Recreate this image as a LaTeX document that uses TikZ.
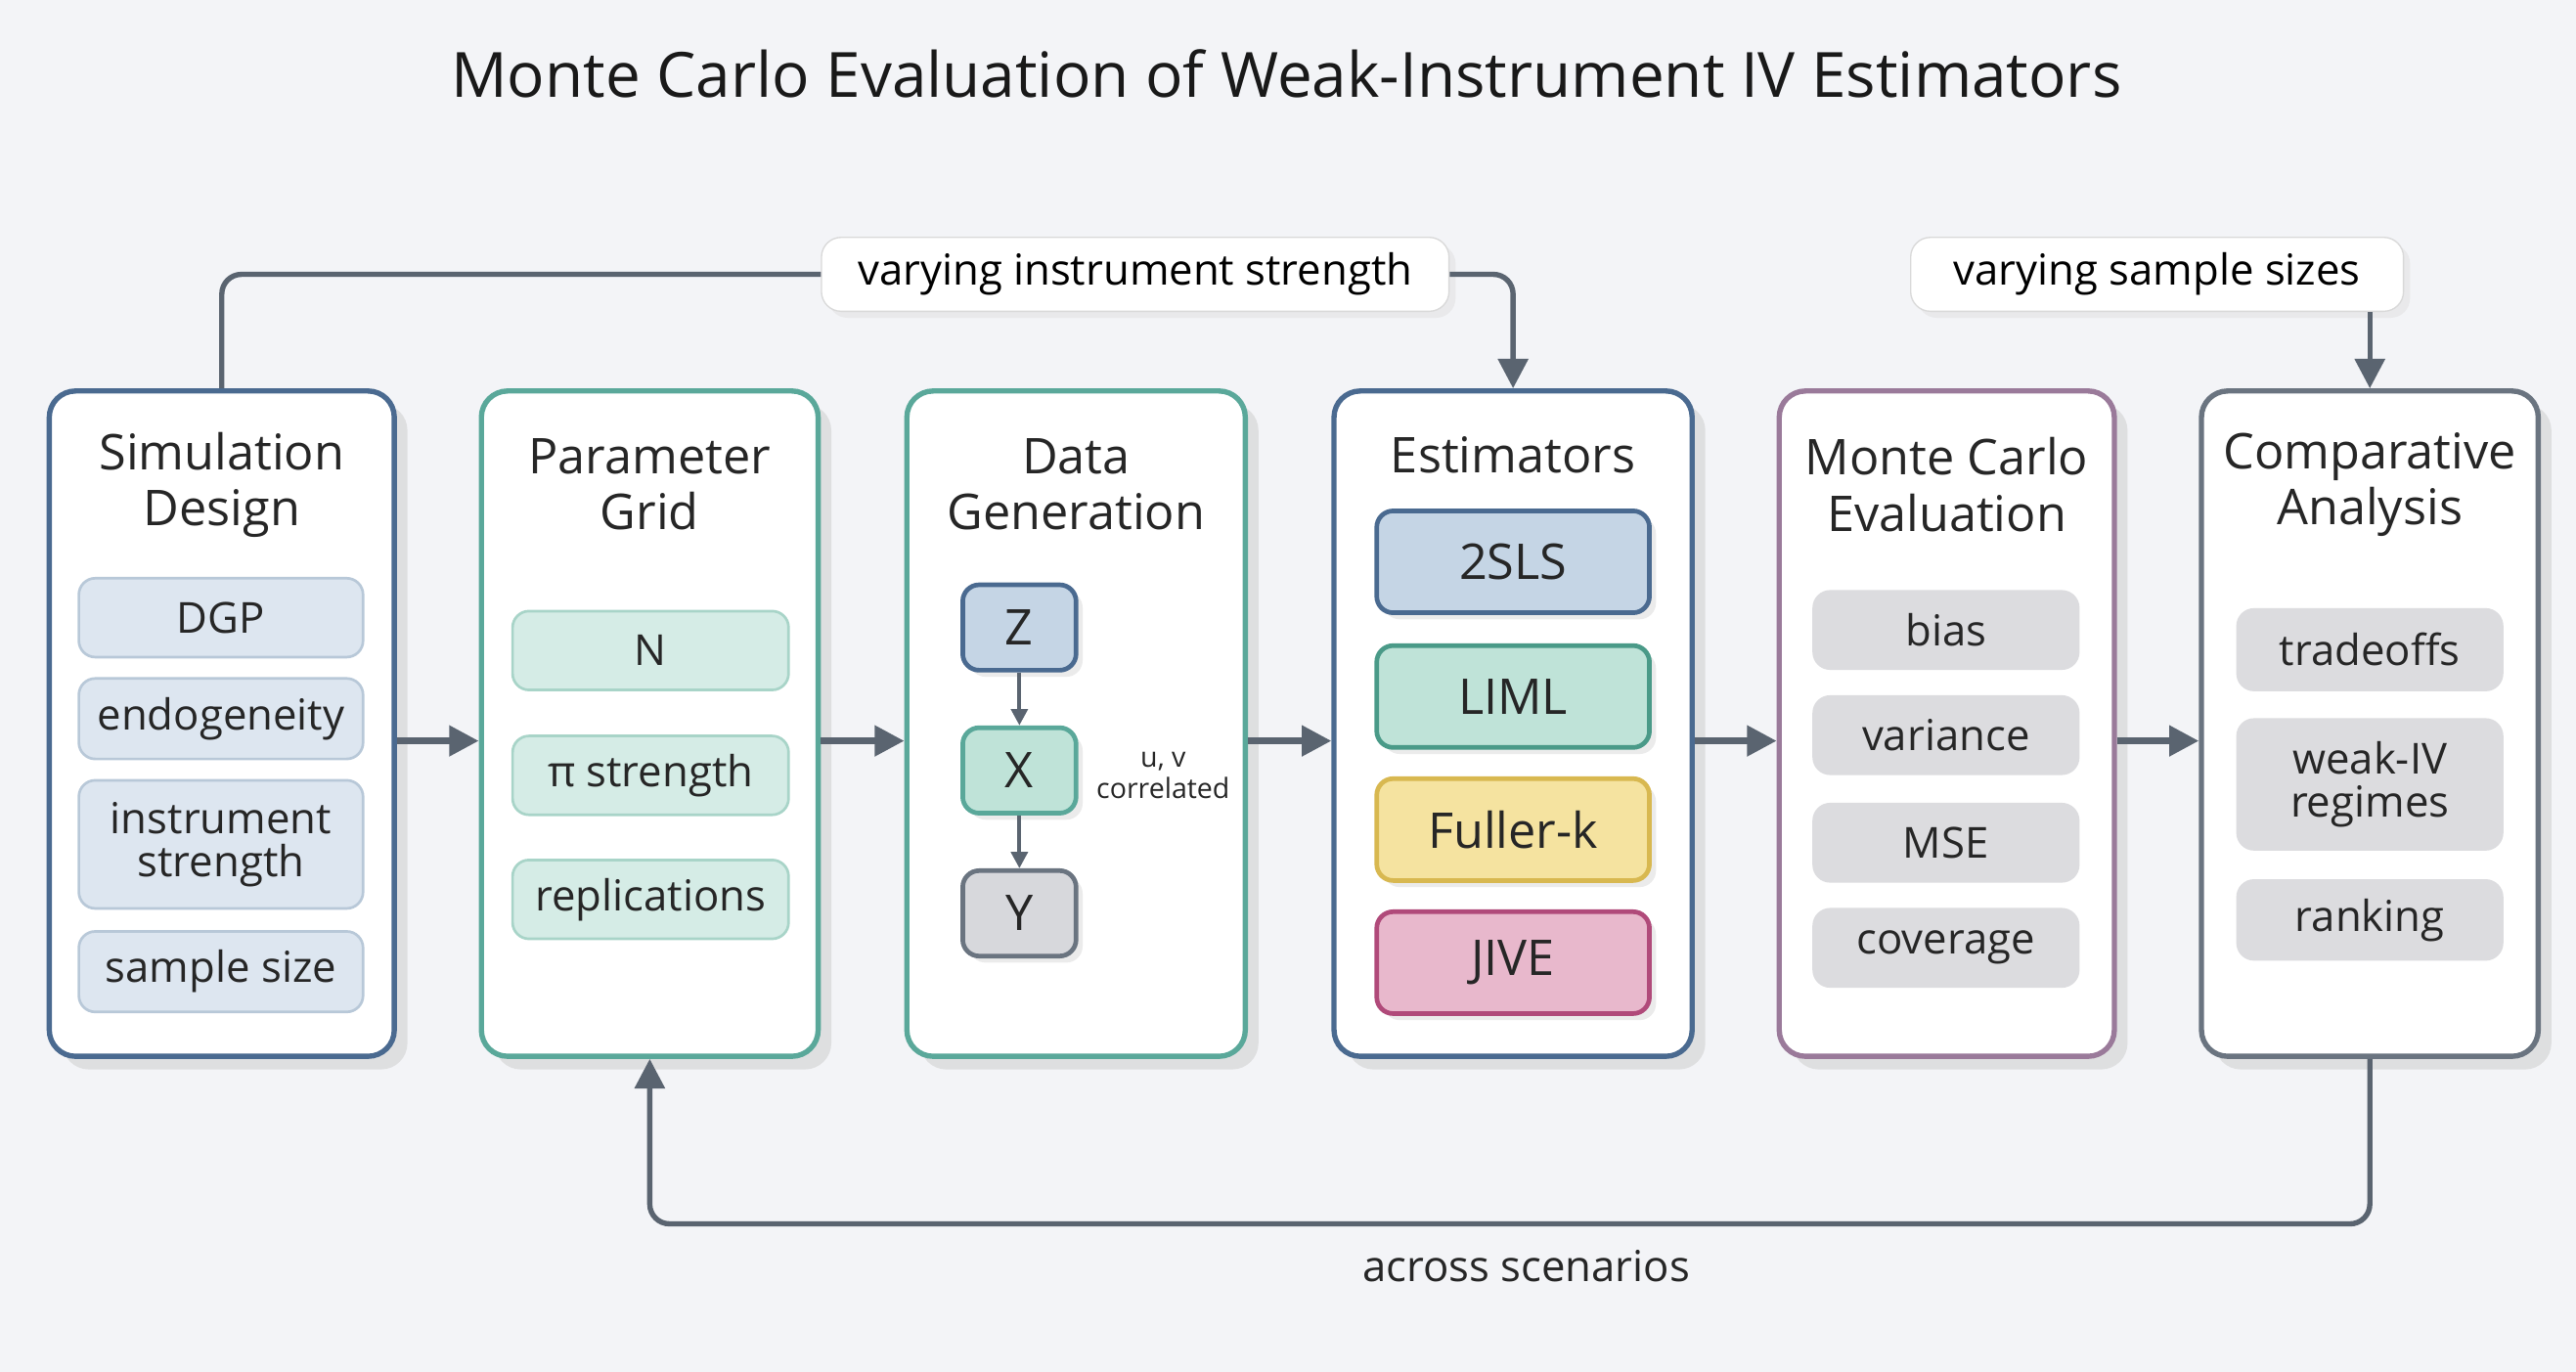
\documentclass[tikz,border=0pt]{standalone}
\usepackage{fontspec}
\setmainfont{Open Sans}
\usetikzlibrary{arrows.meta,shadows}
\definecolor{bg}{HTML}{F3F4F7}
\definecolor{ln}{HTML}{5A6470}
\definecolor{bB}{HTML}{4A6A90}
\definecolor{bT}{HTML}{5AA89A}
\definecolor{bP}{HTML}{9A7A9A}
\definecolor{bG}{HTML}{6A7480}
\definecolor{f1}{HTML}{DDE6F0}\definecolor{d1}{HTML}{B8C8D8}
\definecolor{f2}{HTML}{D5ECE6}\definecolor{d2}{HTML}{A8D4C8}
\definecolor{f5}{HTML}{DCDCDF}
\tikzset{
 panel/.style={draw, line width=1.6pt, rounded corners=8pt, fill=white, drop shadow={shadow xshift=4pt, shadow yshift=-4pt, fill=black!18, opacity=0.6}},
 ptitle/.style={font=\fontsize{15}{17}\selectfont, align=center, text=black!85},
 item/.style={rounded corners=5pt, line width=0.8pt, font=\fontsize{13}{15}\selectfont, align=center, text=black!85, inner sep=0pt},
 arr/.style={ln, line width=2pt, -{Triangle[length=9pt,width=9pt]}},
 lp/.style={ln, line width=1.6pt, rounded corners=6pt},
 lab/.style={draw=black!15, fill=white, rounded corners=6pt, font=\fontsize{13}{15}\selectfont, inner sep=0pt, drop shadow={shadow xshift=2pt, shadow yshift=-2pt, fill=black!12}},
}
\begin{document}
\begin{tikzpicture}[x=0.5pt,y=-0.5pt]
\fill[bg] (0,0) rectangle (1568,835);
\useasboundingbox (0,0) rectangle (1568,835);
\node[font=\fontsize{19}{22}\selectfont, text=black!90] (title) at (783,45) {Monte Carlo Evaluation of Weak-Instrument IV Estimators};
% panels
\node[panel, draw=bB, minimum width=105pt, minimum height=202.5pt] (p1) at (135,440.5) {};
\node[panel, draw=bT, minimum width=102.5pt, minimum height=202.5pt] (p2) at (395.5,440.5) {};
\node[panel, draw=bT, minimum width=103pt, minimum height=202.5pt] (p3) at (655,440.5) {};
\node[panel, draw=bB, minimum width=109pt, minimum height=202.5pt] (p4) at (921,440.5) {};
\node[panel, draw=bP, minimum width=102pt, minimum height=202.5pt] (p5) at (1185,440.5) {};
\node[panel, draw=bG, minimum width=102.5pt, minimum height=202.5pt] (p6) at (1442.5,440.5) {};
% titles
\node[ptitle] (t1) at (135,295) {Simulation\\Design};
\node[ptitle] (t2) at (395.5,295) {Parameter\\Grid};
\node[ptitle] (t3) at (655,295) {Data\\Generation};
\node[ptitle] (t4) at (921,277) {Estimators};
\node[ptitle] (t5) at (1185,295) {Monte Carlo\\Evaluation};
\node[ptitle] (t6) at (1442.5,295) {Comparative\\Analysis};
% panel 1
\tikzset{a1/.style={item, fill=f1, draw=d1, minimum width=86.5pt}}
\node[a1, minimum height=24pt] (dgp) at (134.5,376) {DGP};
\node[a1, minimum height=24.5pt] (endo) at (134.5,437.5) {endogeneity};
\node[a1, minimum height=39pt] (inst) at (134.5,514) {instrument\\[-2pt]strength};
\node[a1, minimum height=24.5pt] (ss) at (134.5,591.5) {sample size};
% panel 2
\tikzset{a2/.style={item, fill=f2, draw=d2, minimum width=84pt, minimum height=24pt}}
\node[a2] (n) at (396,396) {N};
\node[a2] (pi) at (396,472) {π strength};
\node[a2] (rep) at (396,547.5) {replications};
% panel 3
\tikzset{a3/.style={item, line width=1.4pt, minimum width=34.5pt, minimum height=26pt, font=\fontsize{15}{17}\selectfont, drop shadow={shadow xshift=2pt, shadow yshift=-2pt, fill=black!15}}}
\node[a3, draw=bB, fill={rgb,255:red,197;green,213;blue,229}] (z) at (620.5,382) {Z};
\node[a3, draw=bT, fill={rgb,255:red,191;green,227;blue,216}] (x) at (620.5,469) {X};
\node[a3, draw=bG, fill={rgb,255:red,215;green,216;blue,220}] (y) at (620.5,556) {Y};
\draw[ln, line width=1.2pt, -{Triangle[length=5pt,width=5pt]}] (z) -- (x);
\draw[ln, line width=1.2pt, -{Triangle[length=5pt,width=5pt]}] (x) -- (y);
\node[font=\fontsize{8.5}{9.5}\selectfont, align=center, text=black!85] (uv) at (708,472) {u, v\\correlated};
% panel 4
\tikzset{a4/.style={item, line width=1.4pt, minimum width=83pt, minimum height=31pt, font=\fontsize{15}{17}\selectfont, drop shadow={shadow xshift=2pt, shadow yshift=-2pt, fill=black!15}}}
\node[a4, draw=bB, fill={rgb,255:red,197;green,213;blue,229}] (e1) at (921,342) {2SLS};
\node[a4, draw={rgb,255:red,74;green,154;blue,136}, fill={rgb,255:red,191;green,227;blue,216}] (e2) at (921,424) {LIML};
\node[a4, draw={rgb,255:red,216;green,184;blue,80}, fill={rgb,255:red,245;green,227;blue,160}] (e3) at (921,505) {Fuller-k};
\node[a4, draw={rgb,255:red,176;green,74;blue,122}, fill={rgb,255:red,232;green,184;blue,204}] (e4) at (921,586) {JIVE};
% panel 5
\tikzset{a5/.style={item, fill=f5, draw=f5, minimum width=80.5pt, minimum height=23.5pt}}
\node[a5] (m1) at (1184.5,383.5) {bias};
\node[a5] (m2) at (1184.5,447.5) {variance};
\node[a5] (m3) at (1184.5,513) {MSE};
\node[a5] (m4) at (1184.5,577) {coverage};
% panel 6
\node[a5, minimum height=24.5pt] (c1) at (1442.5,395.5) {tradeoffs};
\node[a5, minimum height=39.5pt] (c2) at (1442.5,477.5) {weak-IV\\[-2pt]regimes};
\node[a5, minimum height=24pt] (c3) at (1442.5,560) {ranking};
% main arrows
\foreach \a/\b in {p1/p2,p2/p3,p3/p4,p4/p5,p5/p6}
  \draw[arr] ([yshift=-5.25pt]\a.east) -- ([yshift=-5.25pt]\b.west);
% top loops
\node[lab, minimum width=191pt, minimum height=22.5pt] (l1) at (691,167) {varying instrument strength};
\node[lab, minimum width=150pt, minimum height=22.5pt] (l2) at (1313,167) {varying sample sizes};
\draw[lp] (p1.north) |- (l1.west);
\draw[lp, -{Triangle[length=9pt,width=9pt]}] (l1.east) -| (p4.north);
\draw[lp, -{Triangle[length=9pt,width=9pt]}] (l2.south -| p6.north) -- (p6.north);
% bottom loop
\coordinate (bl) at (1442.5,745);
\draw[lp, -{Triangle[length=9pt,width=9pt]}] (p6.south) -- (bl) -| (p2.south);
\node[font=\fontsize{13}{15}\selectfont, text=black!85] (acr) at (929,771) {across scenarios};
\end{tikzpicture}
\end{document}
